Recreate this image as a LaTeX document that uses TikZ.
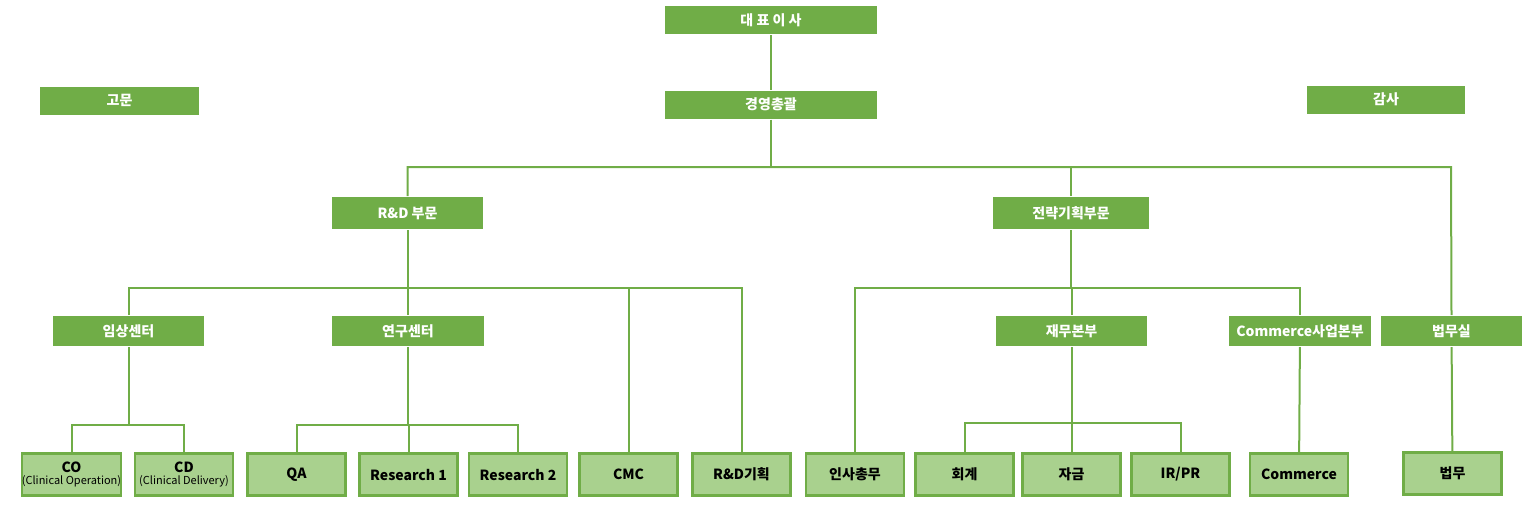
\documentclass[tikz,border=0pt]{standalone}
\usepackage{fontspec}
\setmainfont{Noto Sans CJK KR}
\usetikzlibrary{positioning}
\definecolor{darkgreen}{HTML}{70AD47}
\definecolor{lightgreen}{HTML}{A9D18E}

\begin{document}
\begin{tikzpicture}[x=0.5pt, y=-0.5pt, line width=1pt]
    \tikzset{
        head/.style={fill=darkgreen, text=white, font=\bfseries\fontsize{7}{8}\selectfont, inner sep=0pt, minimum height=14pt},
        leaf/.style={fill=lightgreen, draw=darkgreen, line width=1.2pt, font=\bfseries\fontsize{7}{8}\selectfont, inner sep=0pt, minimum width=49pt, minimum height=21pt, align=center},
        wire/.style={draw=darkgreen}
    }
    \useasboundingbox (0,0) rectangle (1532,515);

    % Top level
    \node[head, minimum width=106pt] (ceo) at (771,20) {대 표 이 사};
    \node[head, minimum width=106pt] (coo) at (771,104.5) {경영총괄};
    \node[head, minimum width=79.5pt] (adv) at (119.5,100.5) {고문};
    \node[head, minimum width=79pt] (aud) at (1386,99.5) {감사};

    % Divisions
    \node[head, minimum width=75.5pt, minimum height=16pt] (rnd) at (407.5,213) {R\&D 부문};
    \node[head, minimum width=78pt, minimum height=16pt] (strat) at (1071,213) {전략기획부문};

    % Centers
    \node[head, minimum width=75.5pt, minimum height=15pt] (clin) at (128.5,331) {임상센터};
    \node[head, minimum width=76pt, minimum height=15pt] (lab) at (408,331) {연구센터};
    \node[head, minimum width=75.5pt, minimum height=15pt] (fin) at (1071.5,331) {재무본부};
    \node[head, minimum width=71pt, minimum height=15pt] (com) at (1300,331) {Commerce사업본부};
    \node[head, minimum width=70.5pt, minimum height=15pt] (law) at (1451.5,331) {법무실};

    % Teams
    \node[leaf] (co) at (71.5,474.5) {CO\\[-2pt]{\mdseries\fontsize{5.5}{6}\selectfont(Clinical Operation)}};
    \node[leaf] (cd) at (184,474.5) {CD\\[-2pt]{\mdseries\fontsize{5.5}{6}\selectfont(Clinical Delivery)}};
    \node[leaf] (qa) at (296.5,474.5) {QA};
    \node[leaf] (res1) at (408.5,474.5) {Research 1};
    \node[leaf] (res2) at (518,474.5) {Research 2};
    \node[leaf] (cmc) at (628.5,474.5) {CMC};
    \node[leaf] (plan) at (741.5,474.5) {R\&D기획};
    \node[leaf] (hr) at (855,474.5) {인사총무};
    \node[leaf] (acc) at (964.5,474.5) {회계};
    \node[leaf] (fund) at (1071.5,474.5) {자금};
    \node[leaf] (ir) at (1180.5,474.5) {IR/PR};
    \node[leaf] (comm) at (1299,474.5) {Commerce};
    \node[leaf] (legal) at (1452.5,473.5) {법무};

    % Connectors
    \draw[wire] (ceo) -- (coo);
    \draw[wire] (coo) -- (771,167);
    \draw[wire] (rnd.north) |- (1451,167) -- (law.north);
    \draw[wire] (strat.north) -- (1071,167);
    \draw[wire] (rnd) -- (407.5,288);
    \draw[wire] (clin.north) |- (741.5,288) -- (plan.north);
    \draw[wire] (lab.north) -- (408,288);
    \draw[wire] (cmc.north) -- (628.5,288);
    \draw[wire] (strat) -- (1071,288);
    \draw[wire] (hr.north) |- (1300,288) -- (com.north);
    \draw[wire] (fin.north) -- (1071.5,288);
    \draw[wire] (clin) -- (128.5,425);
    \draw[wire] (co.north) |- (184,425) -- (cd.north);
    \draw[wire] (lab) -- (408,425);
    \draw[wire] (qa.north) |- (518,425) -- (res2.north);
    \draw[wire] (408.5,425) -- (res1.north);
    \draw[wire] (fin) -- (1071.5,423);
    \draw[wire] (acc.north) |- (1180.5,423) -- (ir.north);
    \draw[wire] (fund) -- (1071.5,423);
    \draw[wire] (com) -- (comm);
    \draw[wire] (law) -- (legal);
\end{tikzpicture}
\end{document}
